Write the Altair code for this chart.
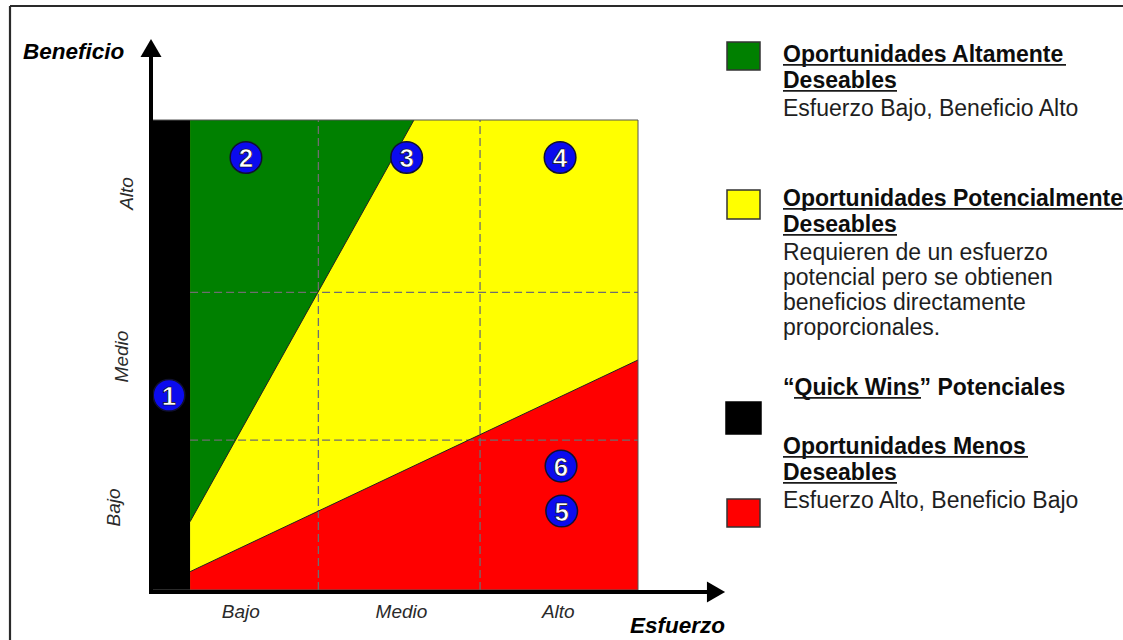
import altair as alt
import pandas as pd

FONT = "Liberation Sans"

# ---------------- data (Esfuerzo on x, Beneficio on y, 0-3 space) ----------------
quick_x = [0.0, 0.235]            # black "Quick Wins" column
quick_y = [0.0, 3.0]
plot_x = [0.235, 3.0]             # coloured matrix
plot_y = [0.0, 3.0]
green_x = [0.235, 1.617]          # green wedge: lower edge -> top
green_lo = [0.436, 3.0]
green_hi = [3.0, 3.0]
red_x = [0.235, 3.0]              # red wedge: bottom -> upper edge
red_lo = [0.0, 0.0]
red_hi = [0.117, 1.468]
grid_x = [1.027, 2.025]
grid_y = [0.957, 1.900]

point_labels = ["1", "2", "3", "4", "5", "6"]
point_x = [0.105, 0.580, 1.572, 2.519, 2.529, 2.525]
point_y = [1.243, 2.761, 2.761, 2.761, 0.504, 0.791]

x_tick_labels = ["Bajo", "Medio", "Alto"]
x_tick_pos = [0.548, 1.540, 2.508]
y_tick_labels = ["Bajo", "Medio", "Alto"]
y_tick_pos = [0.527, 1.490, 2.531]

legend_titles = [
    ["Oportunidades Altamente", "Deseables"],
    ["Oportunidades Potencialmente", "Deseables"],
    ["\u201cQuick Wins\u201d Potenciales"],
    ["Oportunidades Menos", "Deseables"],
]
legend_desc = [
    ["Esfuerzo Bajo, Beneficio Alto"],
    ["Requieren de un esfuerzo", "potencial pero se obtienen",
     "beneficios directamente", "proporcionales."],
    [],
    ["Esfuerzo Alto, Beneficio Bajo"],
]
legend_colors = ["#008000", "#ffff00", "#000000", "#ff0000"]

# ---------------- layout (pixels) ----------------
title_base = [62, 206, 395, 454]
swatch_top = [42, 190, 402, 499]
swatch_bot = [70, 219, 434, 527]
underline_spans = [
    [(783, 1066), (783, 897)],
    [(783, 1123), (783, 897)],
    [(794, 921)],
    [(783, 1028), (783, 897)],
]
y_tick_x = [-0.198, -0.148, -0.117]
x_tick_y = -0.178

xs = alt.Scale(domain=[0, 3], range=[152, 638], nice=False, zero=False)
ys = alt.Scale(domain=[0, 3], range=[590, 120], nice=False, zero=False)


def X(f):
    return alt.X(f, type="quantitative", scale=xs, axis=None)


def Y(f):
    return alt.Y(f, type="quantitative", scale=ys, axis=None)


one = pd.DataFrame({"k": [0]})
layers = []

# yellow base
layers.append(alt.Chart(pd.DataFrame({"x": [plot_x[0]], "x2": [plot_x[1]], "y": [plot_y[0]], "y2": [plot_y[1]]}))
              .mark_rect(color="#ffff00")
              .encode(x=X("x"), x2="x2", y=Y("y"), y2="y2"))
# green wedge
layers.append(alt.Chart(pd.DataFrame({"x": green_x, "lo": green_lo, "hi": green_hi}))
              .mark_area(color="#008000", opacity=1)
              .encode(x=X("x"), y=Y("lo"), y2="hi"))
# red wedge
layers.append(alt.Chart(pd.DataFrame({"x": red_x, "lo": red_lo, "hi": red_hi}))
              .mark_area(color="#ff0000", opacity=1)
              .encode(x=X("x"), y=Y("lo"), y2="hi"))
# black quick-wins column
layers.append(alt.Chart(pd.DataFrame({"x": [quick_x[0]], "x2": [quick_x[1]], "y": [quick_y[0]], "y2": [quick_y[1]]}))
              .mark_rect(color="#000000")
              .encode(x=X("x"), x2="x2", y=Y("y"), y2="y2"))
# dashed grid
layers.append(alt.Chart(pd.DataFrame({"x": grid_x, "y": [plot_y[0]] * 2, "y2": [plot_y[1]] * 2}))
              .mark_rule(color="#6e6e6e", strokeWidth=1.3, strokeDash=[8, 4])
              .encode(x=X("x"), y=Y("y"), y2="y2"))
layers.append(alt.Chart(pd.DataFrame({"y": grid_y, "x": [plot_x[0]] * 2, "x2": [plot_x[1]] * 2}))
              .mark_rule(color="#6e6e6e", strokeWidth=1.3, strokeDash=[8, 4])
              .encode(y=Y("y"), x=X("x"), x2="x2"))
# boundary lines
layers.append(alt.Chart(pd.DataFrame({"x": [green_x[0], red_x[0]], "x2": [green_x[1], red_x[1]],
                                      "y": [green_lo[0], red_hi[0]], "y2": [green_lo[1], red_hi[1]]}))
              .mark_rule(color="#222222", strokeWidth=1)
              .encode(x=X("x"), x2="x2", y=Y("y"), y2="y2"))
# outline of matrix
layers.append(alt.Chart(pd.DataFrame({"x": [quick_x[0]], "x2": [plot_x[1]], "y": [plot_y[0]], "y2": [plot_y[1]]}))
              .mark_rect(fill=None, fillOpacity=0, stroke="#555555", strokeWidth=1)
              .encode(x=X("x"), x2="x2", y=Y("y"), y2="y2"))

# numbered bubbles
pts = pd.DataFrame({"x": point_x, "y": point_y, "t": point_labels})
layers.append(alt.Chart(pts).mark_circle(size=1000, color="#0b0bee", opacity=1,
                                         stroke="#101030", strokeWidth=1.5)
              .encode(x=X("x"), y=Y("y")))
layers.append(alt.Chart(pts).mark_text(font=FONT, fontSize=26, fontWeight="bold", color="white",
                                       stroke="#000000", strokeWidth=0.6, baseline="alphabetic",
                                       align="center", dy=9.5)
              .encode(x=X("x"), y=Y("y"), text="t:N"))

# tick labels
layers.append(alt.Chart(pd.DataFrame({"x": x_tick_pos, "y": [x_tick_y] * 3, "t": x_tick_labels}))
              .mark_text(font=FONT, fontSize=19, fontStyle="italic", color="#2a2a2a",
                         align="center", baseline="alphabetic")
              .encode(x=X("x"), y=Y("y"), text="t:N"))
layers.append(alt.Chart(pd.DataFrame({"x": y_tick_x, "y": y_tick_pos, "t": y_tick_labels}))
              .mark_text(font=FONT, fontSize=19, fontStyle="italic", color="#2a2a2a",
                         align="center", baseline="alphabetic", angle=270)
              .encode(x=X("x"), y=Y("y"), text="t:N"))

# axes arrows
layers.append(alt.Chart(one).mark_rule(color="#000", strokeWidth=4)
              .encode(x=alt.value(151), y=alt.value(594), y2=alt.value(56)))
layers.append(alt.Chart(one).mark_rule(color="#000", strokeWidth=4)
              .encode(y=alt.value(592), x=alt.value(149), x2=alt.value(708)))
layers.append(alt.Chart(one).mark_point(shape="triangle-up", size=441, filled=True, color="#000", opacity=1)
              .encode(x=alt.value(151), y=alt.value(48)))
layers.append(alt.Chart(one).mark_point(shape="triangle-right", size=441, filled=True, color="#000", opacity=1)
              .encode(x=alt.value(716), y=alt.value(592)))


def txt(s, x, y, size=23, weight="normal", style="normal", color="#111111", align="left"):
    return (alt.Chart(one)
            .mark_text(text=s, font=FONT, fontSize=size, fontWeight=weight, fontStyle=style,
                       color=color, align=align, baseline="alphabetic")
            .encode(x=alt.value(x), y=alt.value(y)))


def rule(x1, x2, y1, y2, color="#222222", w=2):
    return (alt.Chart(one).mark_rule(color=color, strokeWidth=w)
            .encode(x=alt.value(x1), x2=alt.value(x2), y=alt.value(y1), y2=alt.value(y2)))


# axis titles
layers.append(txt("Beneficio", 23, 59, size=22.5, weight="bold", style="italic", color="#000"))
layers.append(txt("Esfuerzo", 630, 633, size=22.5, weight="bold", style="italic", color="#000"))

# outer frame (top & left)
layers.append(rule(10, 1123, 6, 6, color="#2a2a2a", w=2.2))
layers.append(rule(10, 10, 6, 640, color="#2a2a2a", w=2.2))

# legend
for i in range(4):
    stroke = "#333333" if legend_colors[i] != "#000000" else "#000000"
    x1 = 727 if i != 2 else 726
    x2 = 760 if i != 2 else 761
    layers.append(alt.Chart(one).mark_rect(color=legend_colors[i], stroke=stroke, strokeWidth=1.5)
                  .encode(x=alt.value(x1), x2=alt.value(x2),
                          y=alt.value(swatch_top[i]), y2=alt.value(swatch_bot[i])))
    yb = title_base[i]
    for j, line in enumerate(legend_titles[i]):
        layers.append(txt(line, 783, yb, weight="bold", color="#0d0d0d"))
        u0, u1 = underline_spans[i][j]
        layers.append(rule(u0, u1, yb + 2.8, yb + 2.8, color="#1a1a1a", w=1.8))
        last = yb
        yb += 26
    yd = last + 28
    for line in legend_desc[i]:
        layers.append(txt(line, 783, yd, color="#1e1e1e"))
        yd += 25

chart = (alt.layer(*layers)
         .properties(width=1123, height=640, padding=0, background="white",
                     autosize=alt.AutoSizeParams(type="none"))
         .configure_view(stroke=None))

chart.save("out.html", embed_options={"renderer": "svg", "actions": False})
